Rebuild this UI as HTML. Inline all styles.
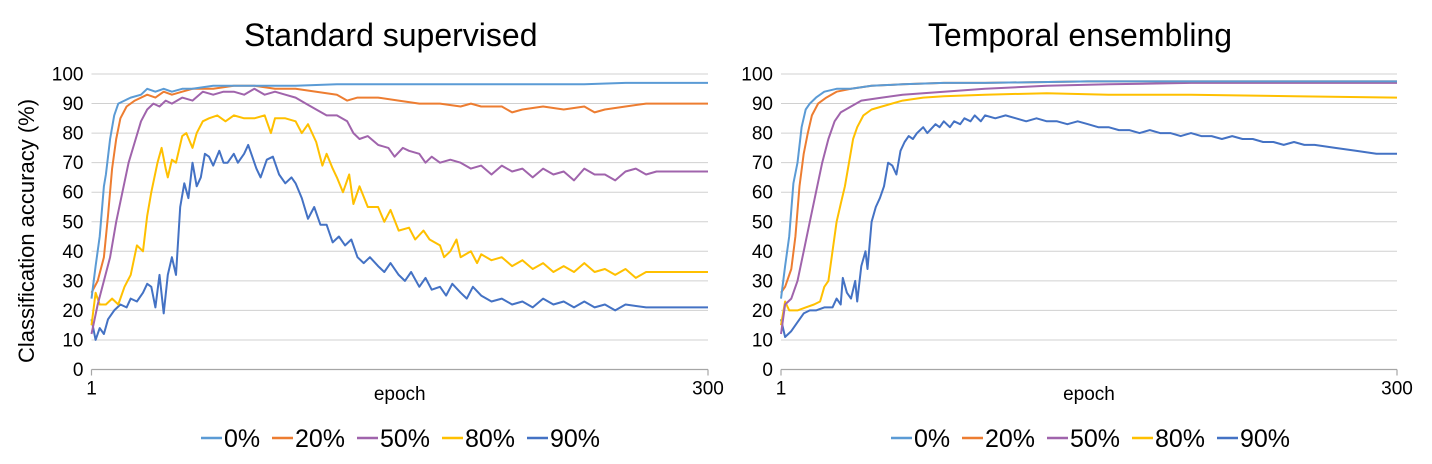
<!DOCTYPE html>
<html><head><meta charset="utf-8"><style>
body{margin:0;background:#fff;width:1432px;height:464px;overflow:hidden;font-family:"Liberation Sans",sans-serif}
svg{display:block}
</style></head><body>
<svg id="svg" width="1432" height="464" xmlns="http://www.w3.org/2000/svg"></svg>
<script>
const seriesNames=["0%","20%","50%","80%","90%"];
const colors=["#5B9BD5","#ED7D31","#A064AC","#FFC000","#4472C4"];
const yTicks=[0,10,20,30,40,50,60,70,80,90,100];
// Standard supervised: [epoch, value] pairs
const sup0=[[1,24],[3,35],[5,45],[7,62],[8,66],[10,78],[12,86],[14,90],[17,91],[20,92],[25,93],[28,95],[32,94],[36,95],[40,94],[45,95],[50,95],[60,96],[70,96],[80,96],[90,96],[100,96],[120,96.5],[140,96.5],[160,96.5],[200,96.5],[240,96.5],[260,97],[300,97]];
const sup20=[[1,26],[4,30],[7,38],[9,52],[11,68],[13,78],[15,85],[18,89],[22,91],[28,93],[32,92],[36,94],[40,93],[45,94],[50,95],[60,95],[70,96],[80,96],[90,95],[100,95],[110,94],[120,93],[125,91],[130,92],[140,92],[150,91],[160,90],[170,90],[180,89],[185,90],[190,89],[200,89],[205,87],[210,88],[220,89],[230,88],[240,89],[245,87],[250,88],[260,89],[270,90],[280,90],[300,90]];
const sup50=[[1,12],[4,22],[7,30],[10,38],[13,50],[16,60],[19,70],[22,77],[25,84],[28,88],[31,90],[34,89],[37,91],[40,90],[45,92],[50,91],[55,94],[60,93],[65,94],[70,94],[75,93],[80,95],[85,93],[90,94],[95,93],[100,92],[105,90],[110,88],[115,86],[120,86],[125,84],[128,80],[131,78],[135,79],[140,76],[145,75],[148,72],[152,75],[155,74],[160,73],[163,70],[166,72],[170,70],[175,71],[180,70],[185,68],[190,69],[195,66],[200,69],[205,67],[210,68],[215,65],[220,68],[225,66],[230,67],[235,64],[240,68],[245,66],[250,66],[255,64],[260,67],[265,68],[270,66],[275,67],[280,67],[300,67]];
const sup80=[[1,15],[3,26],[5,22],[8,22],[11,24],[14,22],[17,28],[20,32],[23,42],[26,40],[28,52],[30,60],[33,70],[35,75],[37,68],[38,65],[40,71],[42,70],[45,79],[47,80],[50,75],[52,80],[55,84],[58,85],[62,86],[66,84],[70,86],[75,85],[80,85],[85,86],[88,80],[90,85],[95,85],[100,84],[103,80],[106,83],[110,77],[113,69],[115,73],[118,68],[120,65],[123,60],[126,66],[128,56],[131,62],[135,55],[140,55],[143,50],[146,54],[150,47],[155,48],[158,44],[162,47],[165,44],[170,42],[172,38],[175,40],[178,44],[180,38],[185,40],[188,36],[190,39],[195,37],[200,38],[205,35],[210,37],[215,34],[220,36],[225,33],[230,35],[235,33],[240,36],[245,33],[250,34],[255,32],[260,34],[265,31],[270,33],[280,33],[300,33]];
const sup90=[[1,17],[3,10],[5,14],[7,12],[9,17],[12,20],[15,22],[18,21],[20,24],[23,23],[26,26],[28,29],[30,28],[32,21],[34,32],[36,19],[38,32],[40,38],[42,32],[44,55],[46,63],[48,58],[50,70],[52,62],[54,65],[56,73],[58,72],[60,69],[63,74],[65,70],[67,70],[70,73],[72,70],[75,73],[77,76],[79,72],[81,68],[83,65],[86,71],[89,72],[92,66],[95,63],[98,65],[100,63],[103,58],[106,51],[109,55],[112,49],[115,49],[118,43],[121,45],[124,42],[127,44],[130,38],[133,36],[136,38],[140,35],[143,33],[146,36],[150,32],[153,30],[156,33],[160,28],[163,31],[166,27],[170,28],[173,25],[176,29],[180,26],[183,24],[186,28],[190,25],[195,23],[200,24],[205,22],[210,23],[215,21],[220,24],[225,22],[230,23],[235,21],[240,23],[245,21],[250,22],[255,20],[260,22],[270,21],[300,21]];
// Temporal ensembling
const te0=[[1,24],[3,35],[5,45],[7,63],[9,70],[11,82],[13,88],[15,90],[18,92],[22,94],[28,95],[35,95],[45,96],[60,96.5],[80,97],[100,97],[150,97.5],[200,97.5],[300,97.5]];
const te20=[[1,26],[3,28],[6,34],[8,45],[10,62],[12,73],[14,80],[16,86],[19,90],[23,92],[28,94],[35,95],[45,96],[60,96.5],[80,97],[100,97],[150,97.5],[200,97.5],[300,97.5]];
const te50=[[1,12],[3,22],[6,24],[9,30],[12,40],[15,50],[18,60],[21,70],[24,78],[27,84],[30,87],[35,89],[40,91],[50,92],[60,93],[80,94],[100,95],[130,96],[160,96.5],[200,97],[300,97]];
const te80=[[1,15],[3,23],[5,20],[9,20],[13,21],[17,22],[20,23],[22,28],[24,30],[26,40],[28,50],[30,56],[32,62],[34,70],[36,78],[38,82],[41,86],[45,88],[50,89],[60,91],[70,92],[80,92.5],[100,93],[130,93.5],[160,93],[200,93],[250,92.5],[300,92]];
const te90=[[1,17],[3,11],[6,13],[9,16],[12,19],[15,20],[18,20],[22,21],[26,21],[28,24],[30,22],[31,31],[33,26],[35,24],[37,30],[38,23],[40,35],[42,40],[43,34],[45,50],[47,55],[49,58],[51,62],[53,70],[55,69],[57,66],[59,74],[61,77],[63,79],[65,78],[67,80],[70,82],[72,80],[76,83],[78,82],[80,84],[83,82],[85,84],[88,83],[90,85],[93,84],[95,86],[98,84],[100,86],[105,85],[110,86],[115,85],[120,84],[125,85],[130,84],[135,84],[140,83],[145,84],[150,83],[155,82],[160,82],[165,81],[170,81],[175,80],[180,81],[185,80],[190,80],[195,79],[200,80],[205,79],[210,79],[215,78],[220,79],[225,78],[230,78],[235,77],[240,77],[245,76],[250,77],[255,76],[260,76],[270,75],[280,74],[290,73],[300,73]];
const supData=[sup0,sup20,sup50,sup80,sup90];
const teData=[te0,te20,te50,te80,te90];

const NS="http://www.w3.org/2000/svg";
const svg=document.getElementById('svg');
function mk(tag,attrs,parent){const e=document.createElementNS(NS,tag);for(const k in attrs)e.setAttribute(k,attrs[k]);(parent||svg).appendChild(e);return e;}

function drawChart(x0,x1,title,data,key,legendX){
  const yTop=74,yBot=369.5;
  const xs=e=>x0+(e-1)/(299)*(x1-x0);
  const ys=v=>yBot-(v/100)*(yBot-yTop);
  const g=mk('g',{});
  
  
  const t=mk('text',{x:(x0+x1)/2-9,y:46,'font-size':32,'text-anchor':'middle',fill:'#000'},g);
  t.textContent=title;
  
  
  yTicks.forEach(v=>{
    const y=ys(v);
    if(v>0){const l=mk('line',{x1:x0,x2:x1,y1:y,y2:y,stroke:'#d0d0d0','stroke-width':1},g);
      
      }
    const tl=mk('text',{x:x0-8,y:y+6.5,'font-size':19,'text-anchor':'end',fill:'#000'},g);
    tl.textContent=v;
    
    
  });
  const ax=mk('line',{x1:x0,x2:x1,y1:yBot,y2:yBot,stroke:'#a6a6a6','stroke-width':1.2},g);
  
  
  [x0,x1].forEach(xx=>{const tk=mk('line',{x1:xx,x2:xx,y1:yBot,y2:yBot+6,stroke:'#a6a6a6','stroke-width':1.2},g);
    
    });
  const l1=mk('text',{x:x0,y:yBot+25,'font-size':19,'text-anchor':'middle'},g);l1.textContent='1';
  
  
  const l2=mk('text',{x:x1,y:yBot+25,'font-size':19,'text-anchor':'middle'},g);l2.textContent='300';
  
  
  const xt=mk('text',{x:(x0+x1)/2,y:400,'font-size':19,'text-anchor':'middle'},g);xt.textContent='epoch';
  
  
  for(let i=data.length-1;i>=0;i--){
    const pts=data[i].map(p=>xs(p[0]).toFixed(1)+','+ys(p[1]).toFixed(1)).join(' ');
    const pl=mk('polyline',{points:pts,fill:'none',stroke:colors[i],'stroke-width':2,'stroke-linejoin':'round'},g);
    
    
  }
  const offs=[0,71,156,241,326];
  seriesNames.forEach((n,i)=>{
    const lg=mk('g',{},g);
    
    
    const lx=legendX+offs[i];
    mk('line',{x1:lx,x2:lx+21,y1:438,y2:438,stroke:colors[i],'stroke-width':2.5},lg);
    const tx=mk('text',{x:lx+23,y:447,'font-size':25},lg);tx.textContent=n;
  });
}
drawChart(91.5,708,'Standard supervised',supData,'standard-supervised',201);
drawChart(781,1397,'Temporal ensembling',teData,'temporal-ensembling',891);
const yl=mk('text',{x:0,y:0,'font-size':22,'text-anchor':'middle',transform:'translate(34,231) rotate(-90)'});
yl.textContent='Classification accuracy (%)';


</script>
</body></html>
